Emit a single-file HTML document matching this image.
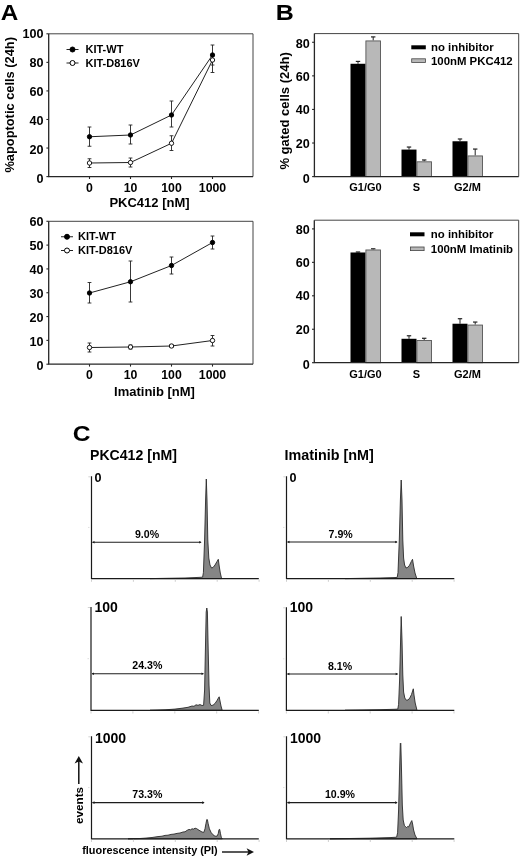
<!DOCTYPE html>
<html lang="en"><head><meta charset="utf-8"><title>Figure</title>
<style>
html,body{margin:0;padding:0;background:#fff;}
svg{display:block;font-family:"Liberation Sans", Arial, sans-serif;filter:blur(0.35px);}
</style></head>
<body>
<svg width="520" height="858" viewBox="0 0 520 858">
<rect width="520" height="858" fill="#fff"/>
<path d="M48.7 33.8H253V176.6" fill="none" stroke="#444" stroke-width="1"/>
<path d="M48.7 33.8V176.6H253" fill="none" stroke="#262626" stroke-width="1.3"/>
<line x1="46.400000000000006" y1="176.6" x2="48.7" y2="176.6" stroke="#262626" stroke-width="1.1"/>
<text x="43.400000000000006" y="182.5" font-size="12.6" font-weight="bold" text-anchor="end" fill="#000">0</text>
<line x1="46.400000000000006" y1="148.04" x2="48.7" y2="148.04" stroke="#262626" stroke-width="1.1"/>
<text x="43.400000000000006" y="153.68" font-size="12.6" font-weight="bold" text-anchor="end" fill="#000">20</text>
<line x1="46.400000000000006" y1="119.47999999999999" x2="48.7" y2="119.47999999999999" stroke="#262626" stroke-width="1.1"/>
<text x="43.400000000000006" y="124.86" font-size="12.6" font-weight="bold" text-anchor="end" fill="#000">40</text>
<line x1="46.400000000000006" y1="90.92" x2="48.7" y2="90.92" stroke="#262626" stroke-width="1.1"/>
<text x="43.400000000000006" y="96.04" font-size="12.6" font-weight="bold" text-anchor="end" fill="#000">60</text>
<line x1="46.400000000000006" y1="62.36" x2="48.7" y2="62.36" stroke="#262626" stroke-width="1.1"/>
<text x="43.400000000000006" y="67.22" font-size="12.6" font-weight="bold" text-anchor="end" fill="#000">80</text>
<line x1="46.400000000000006" y1="33.80000000000001" x2="48.7" y2="33.80000000000001" stroke="#262626" stroke-width="1.1"/>
<text x="43.400000000000006" y="38.4" font-size="12.6" font-weight="bold" text-anchor="end" fill="#000">100</text>
<line x1="89.5" y1="176.6" x2="89.5" y2="179.0" stroke="#262626" stroke-width="1.1"/>
<text x="89.5" y="191.5" font-size="12.3" font-weight="bold" text-anchor="middle" fill="#000">0</text>
<line x1="130.5" y1="176.6" x2="130.5" y2="179.0" stroke="#262626" stroke-width="1.1"/>
<text x="130.5" y="191.5" font-size="12.3" font-weight="bold" text-anchor="middle" fill="#000">10</text>
<line x1="171.5" y1="176.6" x2="171.5" y2="179.0" stroke="#262626" stroke-width="1.1"/>
<text x="171.5" y="191.5" font-size="12.3" font-weight="bold" text-anchor="middle" fill="#000">100</text>
<line x1="212.5" y1="176.6" x2="212.5" y2="179.0" stroke="#262626" stroke-width="1.1"/>
<text x="212.5" y="191.5" font-size="12.3" font-weight="bold" text-anchor="middle" fill="#000">1000</text>
<text x="149.5" y="207" font-size="13" font-weight="bold" text-anchor="middle" fill="#000">PKC412 [nM]</text>
<polyline points="89.5,136.75 130.5,135 171.5,115 212.5,55" fill="none" stroke="#222" stroke-width="1"/>
<line x1="89.5" y1="127" x2="89.5" y2="146.25" stroke="#222" stroke-width="0.9"/>
<line x1="87.6" y1="127" x2="91.4" y2="127" stroke="#222" stroke-width="0.9"/>
<line x1="87.6" y1="146.25" x2="91.4" y2="146.25" stroke="#222" stroke-width="0.9"/>
<line x1="130.5" y1="125" x2="130.5" y2="144" stroke="#222" stroke-width="0.9"/>
<line x1="128.6" y1="125" x2="132.4" y2="125" stroke="#222" stroke-width="0.9"/>
<line x1="128.6" y1="144" x2="132.4" y2="144" stroke="#222" stroke-width="0.9"/>
<line x1="171.5" y1="101" x2="171.5" y2="127" stroke="#222" stroke-width="0.9"/>
<line x1="169.6" y1="101" x2="173.4" y2="101" stroke="#222" stroke-width="0.9"/>
<line x1="169.6" y1="127" x2="173.4" y2="127" stroke="#222" stroke-width="0.9"/>
<line x1="212.5" y1="45" x2="212.5" y2="65" stroke="#222" stroke-width="0.9"/>
<line x1="210.6" y1="45" x2="214.4" y2="45" stroke="#222" stroke-width="0.9"/>
<line x1="210.6" y1="65" x2="214.4" y2="65" stroke="#222" stroke-width="0.9"/>
<polyline points="89.5,163 130.5,162.5 171.5,143.25 212.5,60" fill="none" stroke="#222" stroke-width="1"/>
<line x1="89.5" y1="158.75" x2="89.5" y2="167.5" stroke="#222" stroke-width="0.9"/>
<line x1="87.6" y1="158.75" x2="91.4" y2="158.75" stroke="#222" stroke-width="0.9"/>
<line x1="87.6" y1="167.5" x2="91.4" y2="167.5" stroke="#222" stroke-width="0.9"/>
<line x1="130.5" y1="158" x2="130.5" y2="167" stroke="#222" stroke-width="0.9"/>
<line x1="128.6" y1="158" x2="132.4" y2="158" stroke="#222" stroke-width="0.9"/>
<line x1="128.6" y1="167" x2="132.4" y2="167" stroke="#222" stroke-width="0.9"/>
<line x1="171.5" y1="135.75" x2="171.5" y2="150.5" stroke="#222" stroke-width="0.9"/>
<line x1="169.6" y1="135.75" x2="173.4" y2="135.75" stroke="#222" stroke-width="0.9"/>
<line x1="169.6" y1="150.5" x2="173.4" y2="150.5" stroke="#222" stroke-width="0.9"/>
<line x1="212.5" y1="56" x2="212.5" y2="72.5" stroke="#222" stroke-width="0.9"/>
<line x1="210.6" y1="56" x2="214.4" y2="56" stroke="#222" stroke-width="0.9"/>
<line x1="210.6" y1="72.5" x2="214.4" y2="72.5" stroke="#222" stroke-width="0.9"/>
<circle cx="89.5" cy="136.75" r="2.2" fill="#000" stroke="#000" stroke-width="0.9"/>
<circle cx="130.5" cy="135" r="2.2" fill="#000" stroke="#000" stroke-width="0.9"/>
<circle cx="171.5" cy="115" r="2.2" fill="#000" stroke="#000" stroke-width="0.9"/>
<circle cx="212.5" cy="55" r="2.2" fill="#000" stroke="#000" stroke-width="0.9"/>
<circle cx="89.5" cy="163" r="2.2" fill="#fff" stroke="#000" stroke-width="0.9"/>
<circle cx="130.5" cy="162.5" r="2.2" fill="#fff" stroke="#000" stroke-width="0.9"/>
<circle cx="171.5" cy="143.25" r="2.2" fill="#fff" stroke="#000" stroke-width="0.9"/>
<circle cx="212.5" cy="60" r="2.2" fill="#fff" stroke="#000" stroke-width="0.9"/>
<line x1="66.5" y1="49.5" x2="78.5" y2="49.5" stroke="#222" stroke-width="1"/>
<circle cx="72.5" cy="49.5" r="2.5" fill="#000" stroke="#000" stroke-width="1"/>
<text x="85.5" y="53.2" font-size="11" font-weight="bold" text-anchor="start" fill="#000">KIT-WT</text>
<line x1="66.5" y1="63" x2="78.5" y2="63" stroke="#222" stroke-width="1"/>
<circle cx="72.5" cy="63" r="2.5" fill="#fff" stroke="#000" stroke-width="1"/>
<text x="85.5" y="66.7" font-size="11" font-weight="bold" text-anchor="start" fill="#000">KIT-D816V</text>
<path d="M48.7 221.3H253V364.2" fill="none" stroke="#444" stroke-width="1"/>
<path d="M48.7 221.3V364.2H253" fill="none" stroke="#262626" stroke-width="1.3"/>
<line x1="46.400000000000006" y1="364.2" x2="48.7" y2="364.2" stroke="#262626" stroke-width="1.1"/>
<text x="43.400000000000006" y="370.1" font-size="12.6" font-weight="bold" text-anchor="end" fill="#000">0</text>
<line x1="46.400000000000006" y1="340.38" x2="48.7" y2="340.38" stroke="#262626" stroke-width="1.1"/>
<text x="43.400000000000006" y="346.06" font-size="12.6" font-weight="bold" text-anchor="end" fill="#000">10</text>
<line x1="46.400000000000006" y1="316.56" x2="48.7" y2="316.56" stroke="#262626" stroke-width="1.1"/>
<text x="43.400000000000006" y="322.03" font-size="12.6" font-weight="bold" text-anchor="end" fill="#000">20</text>
<line x1="46.400000000000006" y1="292.74" x2="48.7" y2="292.74" stroke="#262626" stroke-width="1.1"/>
<text x="43.400000000000006" y="297.99" font-size="12.6" font-weight="bold" text-anchor="end" fill="#000">30</text>
<line x1="46.400000000000006" y1="268.91999999999996" x2="48.7" y2="268.91999999999996" stroke="#262626" stroke-width="1.1"/>
<text x="43.400000000000006" y="273.95" font-size="12.6" font-weight="bold" text-anchor="end" fill="#000">40</text>
<line x1="46.400000000000006" y1="245.09999999999997" x2="48.7" y2="245.09999999999997" stroke="#262626" stroke-width="1.1"/>
<text x="43.400000000000006" y="249.92" font-size="12.6" font-weight="bold" text-anchor="end" fill="#000">50</text>
<line x1="46.400000000000006" y1="221.27999999999997" x2="48.7" y2="221.27999999999997" stroke="#262626" stroke-width="1.1"/>
<text x="43.400000000000006" y="225.88" font-size="12.6" font-weight="bold" text-anchor="end" fill="#000">60</text>
<line x1="89.5" y1="364.2" x2="89.5" y2="366.59999999999997" stroke="#262626" stroke-width="1.1"/>
<text x="89.5" y="378.6" font-size="12.3" font-weight="bold" text-anchor="middle" fill="#000">0</text>
<line x1="130.5" y1="364.2" x2="130.5" y2="366.59999999999997" stroke="#262626" stroke-width="1.1"/>
<text x="130.5" y="378.6" font-size="12.3" font-weight="bold" text-anchor="middle" fill="#000">10</text>
<line x1="171.5" y1="364.2" x2="171.5" y2="366.59999999999997" stroke="#262626" stroke-width="1.1"/>
<text x="171.5" y="378.6" font-size="12.3" font-weight="bold" text-anchor="middle" fill="#000">100</text>
<line x1="212.5" y1="364.2" x2="212.5" y2="366.59999999999997" stroke="#262626" stroke-width="1.1"/>
<text x="212.5" y="378.6" font-size="12.3" font-weight="bold" text-anchor="middle" fill="#000">1000</text>
<text x="154.5" y="395.7" font-size="13" font-weight="bold" text-anchor="middle" fill="#000">Imatinib [nM]</text>
<polyline points="89.5,293 130.5,281.75 171.5,265.5 212.5,242.5" fill="none" stroke="#222" stroke-width="1"/>
<line x1="89.5" y1="282.5" x2="89.5" y2="303" stroke="#222" stroke-width="0.9"/>
<line x1="87.6" y1="282.5" x2="91.4" y2="282.5" stroke="#222" stroke-width="0.9"/>
<line x1="87.6" y1="303" x2="91.4" y2="303" stroke="#222" stroke-width="0.9"/>
<line x1="130.5" y1="261" x2="130.5" y2="302" stroke="#222" stroke-width="0.9"/>
<line x1="128.6" y1="261" x2="132.4" y2="261" stroke="#222" stroke-width="0.9"/>
<line x1="128.6" y1="302" x2="132.4" y2="302" stroke="#222" stroke-width="0.9"/>
<line x1="171.5" y1="257" x2="171.5" y2="274" stroke="#222" stroke-width="0.9"/>
<line x1="169.6" y1="257" x2="173.4" y2="257" stroke="#222" stroke-width="0.9"/>
<line x1="169.6" y1="274" x2="173.4" y2="274" stroke="#222" stroke-width="0.9"/>
<line x1="212.5" y1="236" x2="212.5" y2="249" stroke="#222" stroke-width="0.9"/>
<line x1="210.6" y1="236" x2="214.4" y2="236" stroke="#222" stroke-width="0.9"/>
<line x1="210.6" y1="249" x2="214.4" y2="249" stroke="#222" stroke-width="0.9"/>
<polyline points="89.5,347.5 130.5,347 171.5,346 212.5,340.5" fill="none" stroke="#222" stroke-width="1"/>
<line x1="89.5" y1="343" x2="89.5" y2="352" stroke="#222" stroke-width="0.9"/>
<line x1="87.6" y1="343" x2="91.4" y2="343" stroke="#222" stroke-width="0.9"/>
<line x1="87.6" y1="352" x2="91.4" y2="352" stroke="#222" stroke-width="0.9"/>
<line x1="130.5" y1="345" x2="130.5" y2="349" stroke="#222" stroke-width="0.9"/>
<line x1="128.6" y1="345" x2="132.4" y2="345" stroke="#222" stroke-width="0.9"/>
<line x1="128.6" y1="349" x2="132.4" y2="349" stroke="#222" stroke-width="0.9"/>
<line x1="171.5" y1="344.5" x2="171.5" y2="347.5" stroke="#222" stroke-width="0.9"/>
<line x1="169.6" y1="344.5" x2="173.4" y2="344.5" stroke="#222" stroke-width="0.9"/>
<line x1="169.6" y1="347.5" x2="173.4" y2="347.5" stroke="#222" stroke-width="0.9"/>
<line x1="212.5" y1="335.5" x2="212.5" y2="346" stroke="#222" stroke-width="0.9"/>
<line x1="210.6" y1="335.5" x2="214.4" y2="335.5" stroke="#222" stroke-width="0.9"/>
<line x1="210.6" y1="346" x2="214.4" y2="346" stroke="#222" stroke-width="0.9"/>
<circle cx="89.5" cy="293" r="2.2" fill="#000" stroke="#000" stroke-width="0.9"/>
<circle cx="130.5" cy="281.75" r="2.2" fill="#000" stroke="#000" stroke-width="0.9"/>
<circle cx="171.5" cy="265.5" r="2.2" fill="#000" stroke="#000" stroke-width="0.9"/>
<circle cx="212.5" cy="242.5" r="2.2" fill="#000" stroke="#000" stroke-width="0.9"/>
<circle cx="89.5" cy="347.5" r="2.2" fill="#fff" stroke="#000" stroke-width="0.9"/>
<circle cx="130.5" cy="347" r="2.2" fill="#fff" stroke="#000" stroke-width="0.9"/>
<circle cx="171.5" cy="346" r="2.2" fill="#fff" stroke="#000" stroke-width="0.9"/>
<circle cx="212.5" cy="340.5" r="2.2" fill="#fff" stroke="#000" stroke-width="0.9"/>
<line x1="61" y1="236.75" x2="73" y2="236.75" stroke="#222" stroke-width="1"/>
<circle cx="67" cy="236.75" r="2.5" fill="#000" stroke="#000" stroke-width="1"/>
<text x="78" y="240.45" font-size="11" font-weight="bold" text-anchor="start" fill="#000">KIT-WT</text>
<line x1="61" y1="250.5" x2="73" y2="250.5" stroke="#222" stroke-width="1"/>
<circle cx="67" cy="250.5" r="2.5" fill="#fff" stroke="#000" stroke-width="1"/>
<text x="78" y="254.2" font-size="11" font-weight="bold" text-anchor="start" fill="#000">KIT-D816V</text>
<text x="13.7" y="172.6" font-size="12.85" font-weight="bold" text-anchor="start" fill="#000" transform="rotate(-90 13.7 172.6)">%apoptotic cells (24h)</text>
<g transform="translate(0.8 20.3) scale(1.09 1)"><text x="0" y="0" font-size="22.3" font-weight="bold">A</text></g>
<g transform="translate(275.7 20.3) scale(1.12 1)"><text x="0" y="0" font-size="22.3" font-weight="bold">B</text></g>
<g transform="translate(72.7 441) scale(1.09 1)"><text x="0" y="0" font-size="22.6" font-weight="bold">C</text></g>
<line x1="358.0" y1="63.77" x2="358.0" y2="61.42" stroke="#222" stroke-width="1"/>
<line x1="355.8" y1="61.42" x2="360.2" y2="61.42" stroke="#222" stroke-width="1.2"/>
<line x1="373.2" y1="40.43" x2="373.2" y2="36.91" stroke="#222" stroke-width="1"/>
<line x1="371.0" y1="36.91" x2="375.4" y2="36.91" stroke="#222" stroke-width="1.2"/>
<rect x="350.5" y="63.77" width="15" height="112.82999999999998" fill="#000"/>
<rect x="365.9" y="40.93" width="14.6" height="135.67" fill="#b8b8b8" stroke="#555" stroke-width="0.9"/>
<line x1="409.0" y1="149.57" x2="409.0" y2="147.05" stroke="#222" stroke-width="1"/>
<line x1="406.8" y1="147.05" x2="411.2" y2="147.05" stroke="#222" stroke-width="1.2"/>
<line x1="424.2" y1="161.32" x2="424.2" y2="159.98" stroke="#222" stroke-width="1"/>
<line x1="422.0" y1="159.98" x2="426.4" y2="159.98" stroke="#222" stroke-width="1.2"/>
<rect x="401.5" y="149.57" width="15" height="27.03" fill="#000"/>
<rect x="416.9" y="161.82" width="14.6" height="14.780000000000001" fill="#b8b8b8" stroke="#555" stroke-width="0.9"/>
<line x1="460.0" y1="141.26" x2="460.0" y2="138.99" stroke="#222" stroke-width="1"/>
<line x1="457.8" y1="138.99" x2="462.2" y2="138.99" stroke="#222" stroke-width="1.2"/>
<line x1="475.2" y1="155.44" x2="475.2" y2="149.06" stroke="#222" stroke-width="1"/>
<line x1="473.0" y1="149.06" x2="477.4" y2="149.06" stroke="#222" stroke-width="1.2"/>
<rect x="452.5" y="141.26" width="15" height="35.34" fill="#000"/>
<rect x="467.9" y="155.94" width="14.6" height="20.659999999999997" fill="#b8b8b8" stroke="#555" stroke-width="0.9"/>
<path d="M314.4 33.6H518.7V176.6" fill="none" stroke="#444" stroke-width="1"/>
<path d="M314.4 33.6V176.6H518.7" fill="none" stroke="#262626" stroke-width="1.3"/>
<line x1="312.09999999999997" y1="176.6" x2="314.4" y2="176.6" stroke="#262626" stroke-width="1.1"/>
<text x="309.79999999999995" y="183.0" font-size="12.6" font-weight="bold" text-anchor="end" fill="#000">0</text>
<line x1="312.09999999999997" y1="143.02" x2="314.4" y2="143.02" stroke="#262626" stroke-width="1.1"/>
<text x="309.79999999999995" y="148.02" font-size="12.6" font-weight="bold" text-anchor="end" fill="#000">20</text>
<line x1="312.09999999999997" y1="109.44" x2="314.4" y2="109.44" stroke="#262626" stroke-width="1.1"/>
<text x="309.79999999999995" y="114.14" font-size="12.6" font-weight="bold" text-anchor="end" fill="#000">40</text>
<line x1="312.09999999999997" y1="75.86" x2="314.4" y2="75.86" stroke="#262626" stroke-width="1.1"/>
<text x="309.79999999999995" y="80.86" font-size="12.6" font-weight="bold" text-anchor="end" fill="#000">60</text>
<line x1="312.09999999999997" y1="42.28" x2="314.4" y2="42.28" stroke="#262626" stroke-width="1.1"/>
<text x="309.79999999999995" y="48.08" font-size="12.6" font-weight="bold" text-anchor="end" fill="#000">80</text>
<text x="365.5" y="191.3" font-size="11" font-weight="bold" text-anchor="middle" fill="#000">G1/G0</text>
<text x="416.5" y="191.3" font-size="11" font-weight="bold" text-anchor="middle" fill="#000">S</text>
<text x="467.5" y="191.3" font-size="11" font-weight="bold" text-anchor="middle" fill="#000">G2/M</text>
<rect x="411.3" y="45.3" width="14.5" height="4" fill="#000"/>
<rect x="411.7" y="58.800000000000004" width="13.7" height="3.6" fill="#b8b8b8" stroke="#444" stroke-width="0.8"/>
<text x="431" y="50.9" font-size="11.4" font-weight="bold" text-anchor="start" fill="#000">no inhibitor</text>
<text x="431" y="64.5" font-size="11.4" font-weight="bold" text-anchor="start" fill="#000">100nM PKC412</text>
<line x1="358.0" y1="252.48" x2="358.0" y2="251.98" stroke="#222" stroke-width="1"/>
<line x1="355.8" y1="251.98" x2="360.2" y2="251.98" stroke="#222" stroke-width="1.2"/>
<line x1="373.2" y1="249.47" x2="373.2" y2="248.8" stroke="#222" stroke-width="1"/>
<line x1="371.0" y1="248.8" x2="375.4" y2="248.8" stroke="#222" stroke-width="1.2"/>
<rect x="350.5" y="252.48" width="15" height="110.22" fill="#000"/>
<rect x="365.9" y="249.97" width="14.6" height="112.72999999999999" fill="#b8b8b8" stroke="#555" stroke-width="0.9"/>
<line x1="409.0" y1="338.78" x2="409.0" y2="335.77" stroke="#222" stroke-width="1"/>
<line x1="406.8" y1="335.77" x2="411.2" y2="335.77" stroke="#222" stroke-width="1.2"/>
<line x1="424.2" y1="339.95" x2="424.2" y2="338.28" stroke="#222" stroke-width="1"/>
<line x1="422.0" y1="338.28" x2="426.4" y2="338.28" stroke="#222" stroke-width="1.2"/>
<rect x="401.5" y="338.78" width="15" height="23.920000000000016" fill="#000"/>
<rect x="416.9" y="340.45" width="14.6" height="22.25" fill="#b8b8b8" stroke="#555" stroke-width="0.9"/>
<line x1="460.0" y1="323.73" x2="460.0" y2="318.71" stroke="#222" stroke-width="1"/>
<line x1="457.8" y1="318.71" x2="462.2" y2="318.71" stroke="#222" stroke-width="1.2"/>
<line x1="475.2" y1="324.57" x2="475.2" y2="322.06" stroke="#222" stroke-width="1"/>
<line x1="473.0" y1="322.06" x2="477.4" y2="322.06" stroke="#222" stroke-width="1.2"/>
<rect x="452.5" y="323.73" width="15" height="38.96999999999997" fill="#000"/>
<rect x="467.9" y="325.07" width="14.6" height="37.629999999999995" fill="#b8b8b8" stroke="#555" stroke-width="0.9"/>
<path d="M314.3 220.2H518.7V362.7" fill="none" stroke="#444" stroke-width="1"/>
<path d="M314.3 220.2V362.7H518.7" fill="none" stroke="#262626" stroke-width="1.3"/>
<line x1="312.0" y1="362.7" x2="314.3" y2="362.7" stroke="#262626" stroke-width="1.1"/>
<text x="309.7" y="369.2" font-size="12.6" font-weight="bold" text-anchor="end" fill="#000">0</text>
<line x1="312.0" y1="329.25" x2="314.3" y2="329.25" stroke="#262626" stroke-width="1.1"/>
<text x="309.7" y="333.75" font-size="12.6" font-weight="bold" text-anchor="end" fill="#000">20</text>
<line x1="312.0" y1="295.8" x2="314.3" y2="295.8" stroke="#262626" stroke-width="1.1"/>
<text x="309.7" y="299.7" font-size="12.6" font-weight="bold" text-anchor="end" fill="#000">40</text>
<line x1="312.0" y1="262.35" x2="314.3" y2="262.35" stroke="#262626" stroke-width="1.1"/>
<text x="309.7" y="266.65" font-size="12.6" font-weight="bold" text-anchor="end" fill="#000">60</text>
<line x1="312.0" y1="228.9" x2="314.3" y2="228.9" stroke="#262626" stroke-width="1.1"/>
<text x="309.7" y="233.6" font-size="12.6" font-weight="bold" text-anchor="end" fill="#000">80</text>
<text x="365.5" y="378" font-size="11" font-weight="bold" text-anchor="middle" fill="#000">G1/G0</text>
<text x="416.5" y="378" font-size="11" font-weight="bold" text-anchor="middle" fill="#000">S</text>
<text x="467.5" y="378" font-size="11" font-weight="bold" text-anchor="middle" fill="#000">G2/M</text>
<rect x="410" y="232.3" width="14.5" height="4" fill="#000"/>
<rect x="410.4" y="247.0" width="13.7" height="3.6" fill="#b8b8b8" stroke="#444" stroke-width="0.8"/>
<text x="430.8" y="237.9" font-size="11.4" font-weight="bold" text-anchor="start" fill="#000">no inhibitor</text>
<text x="430.8" y="252.70000000000002" font-size="11.4" font-weight="bold" text-anchor="start" fill="#000">100nM Imatinib</text>
<text x="289.2" y="169.6" font-size="13.05" font-weight="bold" text-anchor="start" fill="#000" transform="rotate(-90 289.2 169.6)">% gated cells (24h)</text>
<text x="90" y="460" font-size="14.1" font-weight="bold" text-anchor="start" fill="#000">PKC412 [nM]</text>
<text x="284.6" y="460" font-size="14.35" font-weight="bold" text-anchor="start" fill="#000">Imatinib [nM]</text>
<path d="M150 578.6 L185 578.0 L199 577.4 L202.6 577.2 L203.4 572.6 L204.6 540 L205.6 500 L206.3 479 L207 500 L207.8 540 L208.8 558 L210 565 L211.5 568 L213 567.5 L215 565 L217 561.5 L218.3 559.3 L219.2 566 L220.3 573 L221.6 578.6 Z" fill="#858585" stroke="#2a2a2a" stroke-width="0.9" stroke-linejoin="round"/>
<path d="M91.5 476.3V578.6H258.8" fill="none" stroke="#1a1a1a" stroke-width="1.2"/>
<line x1="91.5" y1="579.6" x2="91.5" y2="581.8000000000001" stroke="#c4c4c4" stroke-width="0.8"/>
<line x1="133.4" y1="579.6" x2="133.4" y2="581.8000000000001" stroke="#c4c4c4" stroke-width="0.8"/>
<line x1="175.3" y1="579.6" x2="175.3" y2="581.8000000000001" stroke="#c4c4c4" stroke-width="0.8"/>
<line x1="217.2" y1="579.6" x2="217.2" y2="581.8000000000001" stroke="#c4c4c4" stroke-width="0.8"/>
<line x1="259.1" y1="579.6" x2="259.1" y2="581.8000000000001" stroke="#c4c4c4" stroke-width="0.8"/>
<line x1="88.3" y1="476.8" x2="90.5" y2="476.8" stroke="#c8c8c8" stroke-width="0.8"/>
<line x1="88.0" y1="527.45" x2="89.5" y2="527.45" stroke="#d8d8d8" stroke-width="0.8"/>
<text x="94.5" y="481.6" font-size="12.6" font-weight="bold" text-anchor="start" fill="#000">0</text>
<line x1="92.5" y1="542.3" x2="201" y2="542.3" stroke="#1c1c1c" stroke-width="1.05"/>
<path d="M92.1 542.3l2.4 -1.3v2.6z" fill="#1c1c1c"/>
<path d="M201.6 542.3l-2.4 -1.3v2.6z" fill="#1c1c1c"/>
<text x="147" y="537.9" font-size="10.6" font-weight="bold" text-anchor="middle" fill="#000">9.0%</text>
<path d="M345 578.6 L380 578.0 L394 577.6 L397.2 577.4 L398 572.6 L399.3 540 L400.4 500 L401.2 480 L402 500 L402.8 540 L403.6 558 L404.6 565 L406 568 L407.8 567.3 L409.5 565.3 L411.3 561.5 L412.5 559.3 L413.6 566 L415 573 L416.8 578.6 Z" fill="#858585" stroke="#2a2a2a" stroke-width="0.9" stroke-linejoin="round"/>
<path d="M286.5 476.3V578.6H454.3" fill="none" stroke="#1a1a1a" stroke-width="1.2"/>
<line x1="286.5" y1="579.6" x2="286.5" y2="581.8000000000001" stroke="#c4c4c4" stroke-width="0.8"/>
<line x1="328.4" y1="579.6" x2="328.4" y2="581.8000000000001" stroke="#c4c4c4" stroke-width="0.8"/>
<line x1="370.3" y1="579.6" x2="370.3" y2="581.8000000000001" stroke="#c4c4c4" stroke-width="0.8"/>
<line x1="412.2" y1="579.6" x2="412.2" y2="581.8000000000001" stroke="#c4c4c4" stroke-width="0.8"/>
<line x1="454.1" y1="579.6" x2="454.1" y2="581.8000000000001" stroke="#c4c4c4" stroke-width="0.8"/>
<line x1="283.3" y1="476.8" x2="285.5" y2="476.8" stroke="#c8c8c8" stroke-width="0.8"/>
<line x1="283.0" y1="527.45" x2="284.5" y2="527.45" stroke="#d8d8d8" stroke-width="0.8"/>
<text x="289.5" y="481.6" font-size="12.6" font-weight="bold" text-anchor="start" fill="#000">0</text>
<line x1="287.5" y1="542.0" x2="397" y2="542.0" stroke="#1c1c1c" stroke-width="1.05"/>
<path d="M287.1 542.0l2.4 -1.3v2.6z" fill="#1c1c1c"/>
<path d="M397.6 542.0l-2.4 -1.3v2.6z" fill="#1c1c1c"/>
<text x="340.7" y="537.6" font-size="10.6" font-weight="bold" text-anchor="middle" fill="#000">7.9%</text>
<path d="M150 710.3 L165 709.8 L175 709.0999999999999 L183 708.0999999999999 L188 707.3 L192 706.0 L194 706.3 L196 704.8 L198 705.3 L200 704.5999999999999 L202 705.5 L203.6 705.3 L204.6 690 L205.4 650 L206.2 612 L206.8 608 L207.4 612 L208.2 650 L209 685 L209.8 703 L211 705.5 L213 705.2 L215 703.5 L217 700.5 L218.4 698 L219.2 696.8 L220 701 L221 706 L222.2 710.3 Z" fill="#858585" stroke="#2a2a2a" stroke-width="0.9" stroke-linejoin="round"/>
<path d="M91.0 607V710.3H258.8" fill="none" stroke="#1a1a1a" stroke-width="1.2"/>
<line x1="91.0" y1="711.3" x2="91.0" y2="713.5" stroke="#c4c4c4" stroke-width="0.8"/>
<line x1="132.9" y1="711.3" x2="132.9" y2="713.5" stroke="#c4c4c4" stroke-width="0.8"/>
<line x1="174.8" y1="711.3" x2="174.8" y2="713.5" stroke="#c4c4c4" stroke-width="0.8"/>
<line x1="216.7" y1="711.3" x2="216.7" y2="713.5" stroke="#c4c4c4" stroke-width="0.8"/>
<line x1="258.6" y1="711.3" x2="258.6" y2="713.5" stroke="#c4c4c4" stroke-width="0.8"/>
<line x1="87.8" y1="607.5" x2="90.0" y2="607.5" stroke="#c8c8c8" stroke-width="0.8"/>
<line x1="87.5" y1="658.65" x2="89.0" y2="658.65" stroke="#d8d8d8" stroke-width="0.8"/>
<text x="94.4" y="612" font-size="14" font-weight="bold" text-anchor="start" fill="#000">100</text>
<line x1="92.0" y1="673.8" x2="203.3" y2="673.8" stroke="#1c1c1c" stroke-width="1.05"/>
<path d="M91.6 673.8l2.4 -1.3v2.6z" fill="#1c1c1c"/>
<path d="M203.9 673.8l-2.4 -1.3v2.6z" fill="#1c1c1c"/>
<text x="147.3" y="669.4" font-size="10.6" font-weight="bold" text-anchor="middle" fill="#000">24.3%</text>
<path d="M345 710.3 L380 709.6999999999999 L394 709.3 L397.8 709.0999999999999 L398.6 704.3 L399.6 680 L400.6 640 L401.2 616.5 L402 640 L402.8 675 L403.6 692 L404.8 698 L406.3 700.2 L408 700 L409.8 698 L411.5 694.5 L412.6 691 L413.3 688.8 L414 695 L415.2 703 L417 710.3 Z" fill="#858585" stroke="#2a2a2a" stroke-width="0.9" stroke-linejoin="round"/>
<path d="M286.4 607.3V710.3H454.3" fill="none" stroke="#1a1a1a" stroke-width="1.2"/>
<line x1="286.4" y1="711.3" x2="286.4" y2="713.5" stroke="#c4c4c4" stroke-width="0.8"/>
<line x1="328.29999999999995" y1="711.3" x2="328.29999999999995" y2="713.5" stroke="#c4c4c4" stroke-width="0.8"/>
<line x1="370.2" y1="711.3" x2="370.2" y2="713.5" stroke="#c4c4c4" stroke-width="0.8"/>
<line x1="412.09999999999997" y1="711.3" x2="412.09999999999997" y2="713.5" stroke="#c4c4c4" stroke-width="0.8"/>
<line x1="454.0" y1="711.3" x2="454.0" y2="713.5" stroke="#c4c4c4" stroke-width="0.8"/>
<line x1="283.2" y1="607.8" x2="285.4" y2="607.8" stroke="#c8c8c8" stroke-width="0.8"/>
<line x1="282.9" y1="658.8" x2="284.4" y2="658.8" stroke="#d8d8d8" stroke-width="0.8"/>
<text x="289.79999999999995" y="612" font-size="14" font-weight="bold" text-anchor="start" fill="#000">100</text>
<line x1="287.4" y1="674.0" x2="397.5" y2="674.0" stroke="#1c1c1c" stroke-width="1.05"/>
<path d="M287.0 674.0l2.4 -1.3v2.6z" fill="#1c1c1c"/>
<path d="M398.1 674.0l-2.4 -1.3v2.6z" fill="#1c1c1c"/>
<text x="340" y="669.6" font-size="10.6" font-weight="bold" text-anchor="middle" fill="#000">8.1%</text>
<path d="M128 838.8 L140 838.5 L146 838.0999999999999 L152 837.5 L158 836.5999999999999 L162 836.1999999999999 L165 835.4 L168 835.1999999999999 L171 834.4 L174 834.0999999999999 L177 833.4 L180 833.0 L183 832.0 L185 831.8 L187 830.4 L189 829.4 L190.5 829.8 L192 828.8 L193.5 829.0999999999999 L195 828.1999999999999 L196.5 828.5 L198 829.5999999999999 L200 830.8 L202 832.0 L203.8 832.4 L205 828.8 L206 823.3 L206.8 819.5 L207.4 819.6999999999999 L208.2 823.8 L209.4 828.8 L211 832.3 L213 834.8 L215 836.1999999999999 L217 836.1999999999999 L218.2 833.8 L219 829.5999999999999 L219.7 829.4 L220.5 833.8 L221.3 837.3 L222.3 838.8 Z" fill="#858585" stroke="#2a2a2a" stroke-width="0.9" stroke-linejoin="round"/>
<path d="M91.5 736.3V838.8H258.8" fill="none" stroke="#1a1a1a" stroke-width="1.2"/>
<line x1="91.5" y1="839.8" x2="91.5" y2="842.0" stroke="#c4c4c4" stroke-width="0.8"/>
<line x1="133.4" y1="839.8" x2="133.4" y2="842.0" stroke="#c4c4c4" stroke-width="0.8"/>
<line x1="175.3" y1="839.8" x2="175.3" y2="842.0" stroke="#c4c4c4" stroke-width="0.8"/>
<line x1="217.2" y1="839.8" x2="217.2" y2="842.0" stroke="#c4c4c4" stroke-width="0.8"/>
<line x1="259.1" y1="839.8" x2="259.1" y2="842.0" stroke="#c4c4c4" stroke-width="0.8"/>
<line x1="88.3" y1="736.8" x2="90.5" y2="736.8" stroke="#c8c8c8" stroke-width="0.8"/>
<line x1="88.0" y1="787.55" x2="89.5" y2="787.55" stroke="#d8d8d8" stroke-width="0.8"/>
<text x="94.9" y="742.5" font-size="14" font-weight="bold" text-anchor="start" fill="#000">1000</text>
<line x1="92.5" y1="802.6" x2="204" y2="802.6" stroke="#1c1c1c" stroke-width="1.05"/>
<path d="M92.1 802.6l2.4 -1.3v2.6z" fill="#1c1c1c"/>
<path d="M204.6 802.6l-2.4 -1.3v2.6z" fill="#1c1c1c"/>
<text x="147.3" y="798.2" font-size="10.6" font-weight="bold" text-anchor="middle" fill="#000">73.3%</text>
<path d="M330 838.8 L370 838.1999999999999 L390 837.5999999999999 L396.6 837.1999999999999 L397.6 832.8 L398.6 810 L399.6 770 L400.3 743.5 L400.8 743 L401.5 770 L402.3 805 L403.2 820 L404.4 825.5 L405.5 826.5 L406.5 827.6 L407.6 826.5 L408.5 827 L409.6 825 L410.8 822.3 L411.8 820.6 L412.6 824 L413.6 830 L415 835 L417 838.8 Z" fill="#858585" stroke="#2a2a2a" stroke-width="0.9" stroke-linejoin="round"/>
<path d="M286.5 736.3V838.8H454.3" fill="none" stroke="#1a1a1a" stroke-width="1.2"/>
<line x1="286.5" y1="839.8" x2="286.5" y2="842.0" stroke="#c4c4c4" stroke-width="0.8"/>
<line x1="328.4" y1="839.8" x2="328.4" y2="842.0" stroke="#c4c4c4" stroke-width="0.8"/>
<line x1="370.3" y1="839.8" x2="370.3" y2="842.0" stroke="#c4c4c4" stroke-width="0.8"/>
<line x1="412.2" y1="839.8" x2="412.2" y2="842.0" stroke="#c4c4c4" stroke-width="0.8"/>
<line x1="454.1" y1="839.8" x2="454.1" y2="842.0" stroke="#c4c4c4" stroke-width="0.8"/>
<line x1="283.3" y1="736.8" x2="285.5" y2="736.8" stroke="#c8c8c8" stroke-width="0.8"/>
<line x1="283.0" y1="787.55" x2="284.5" y2="787.55" stroke="#d8d8d8" stroke-width="0.8"/>
<text x="289.9" y="742.5" font-size="14" font-weight="bold" text-anchor="start" fill="#000">1000</text>
<line x1="287.5" y1="802.6" x2="397" y2="802.6" stroke="#1c1c1c" stroke-width="1.05"/>
<path d="M287.1 802.6l2.4 -1.3v2.6z" fill="#1c1c1c"/>
<path d="M397.6 802.6l-2.4 -1.3v2.6z" fill="#1c1c1c"/>
<text x="340" y="798.2" font-size="10.6" font-weight="bold" text-anchor="middle" fill="#000">10.9%</text>
<text x="83.2" y="824" font-size="11.7" font-weight="bold" text-anchor="start" fill="#000" transform="rotate(-90 83.2 824)">events</text>
<line x1="78.8" y1="784" x2="78.8" y2="760" stroke="#111" stroke-width="1.5"/>
<path d="M78.8 756l-4.2 7.6l4.2 -2l4.2 2z" fill="#111"/>
<text x="82.2" y="854.4" font-size="10.9" font-weight="bold" text-anchor="start" fill="#000">fluorescence intensity (PI)</text>
<line x1="222" y1="852" x2="249" y2="852" stroke="#111" stroke-width="1.4"/>
<path d="M254 852l-7.4 -3.8l1.9 3.8l-1.9 3.8z" fill="#111"/>
</svg>
</body></html>
